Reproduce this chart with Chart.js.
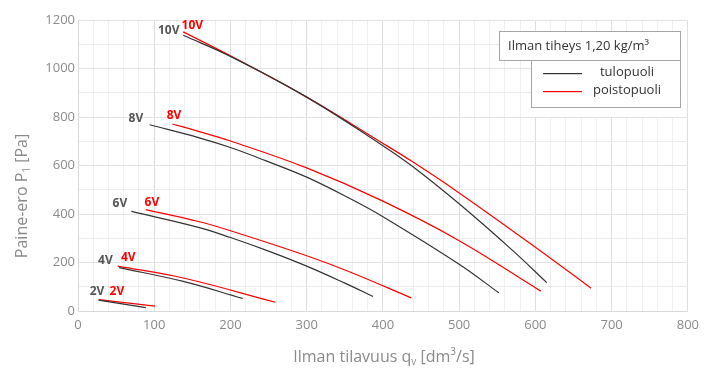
<!DOCTYPE html>
<html>
<head>
<meta charset="utf-8">
<script src="https://cdn.jsdelivr.net/npm/chart.js@4"></script>
<style>
  html, body { margin: 0; background: #fff; }
</style>
</head>
<body>
<canvas id="chart" width="705" height="374"></canvas>
<script>
// curves: [q (dm3/s), p (Pa)]
const tulo10V = [[138,1137],[200,1050],[300,882],[396,690],[439,596],[500,442],[570,250],[615,117]];
const poisto10V = [[138,1151],[200,1052],[300,882],[396,699],[439,615],[500,487],[600,263],[673,94]];
const tulo8V = [[94,768],[158,715],[200,674],[246,620],[300,552],[356,465],[400,389],[500,193],[552,75]];
const poisto8V = [[124,771],[158,741],[200,701],[300,590],[400,453],[500,290],[607,82]];
const tulo6V = [[70,411],[158,345],[200,303],[250,247],[300,185],[350,115],[387,60]];
const poisto6V = [[89,418],[158,369],[200,331],[300,228],[356,162],[437,54]];
const tulo4V = [[54,179],[138,122],[216,52]];
const poisto4V = [[52,185],[138,136],[259,36]];
const tulo2V = [[27,45],[89,14]];
const poisto2V = [[27,47],[101,20]];

const voltLabels = ['10V', '8V', '6V', '4V', '2V'];
const tuloLabelPos = [[119,1158],[76,793],[55,443],[36,209],[25,81]];
const poistoLabelPos = [[150,1179],[126,807],[97,448],[66,222],[51,80]];

const legendTitle = 'Ilman tiheys 1,20 kg/m³';
const legendNames = ['tulopuoli', 'poistopuoli'];

const tuloColor = '#333333';
const poistoColor = '#ff0000';
const grayText = '#8a8a8a';
const fontFam = '"Open Sans", "DejaVu Sans", sans-serif';

function line(points, color) {
  return {
    data: points.map(p => ({ x: p[0], y: p[1] })),
    borderColor: color,
    backgroundColor: color,
    borderWidth: 1.2,
    showLine: true,
    pointRadius: 0,
    tension: 0.4,
  };
}

// rich text with sub/superscripts, centered at cx,cy
function drawRich(ctx, parts, cx, cy, size) {
  const small = Math.round(size * 0.62);
  let total = 0;
  parts.forEach(p => {
    ctx.font = (p[1] ? small : size) + 'px ' + fontFam;
    total += ctx.measureText(p[0]).width;
  });
  let x = cx - total / 2;
  ctx.textAlign = 'left';
  ctx.textBaseline = 'middle';
  parts.forEach(p => {
    ctx.font = (p[1] ? small : size) + 'px ' + fontFam;
    let dy = 0;
    if (p[1] === 'sub') dy = size * 0.35;
    if (p[1] === 'sup') dy = -size * 0.3;
    ctx.fillText(p[0], x, cy + dy);
    x += ctx.measureText(p[0]).width;
  });
}

const extras = {
  id: 'extras',
  afterDatasetsDraw(chart) {
    const ctx = chart.ctx;
    const xs = chart.scales.x, ys = chart.scales.y;
    ctx.save();

    // curve labels
    ctx.font = 'bold 12px ' + fontFam;
    ctx.textAlign = 'center';
    ctx.textBaseline = 'middle';
    voltLabels.forEach((t, i) => {
      ctx.fillStyle = '#555555';
      ctx.fillText(t, xs.getPixelForValue(tuloLabelPos[i][0]), ys.getPixelForValue(tuloLabelPos[i][1]));
      ctx.fillStyle = poistoColor;
      ctx.fillText(t, xs.getPixelForValue(poistoLabelPos[i][0]), ys.getPixelForValue(poistoLabelPos[i][1]));
    });

    // legend boxes
    ctx.fillStyle = '#ffffff';
    ctx.fillRect(499, 31, 188, 30);
    ctx.fillRect(531, 60, 156, 57);
    ctx.strokeStyle = '#a6a6a6';
    ctx.lineWidth = 1;
    ctx.strokeRect(499.5, 31.5, 181, 29);
    ctx.strokeRect(531.5, 60.5, 149, 47);

    ctx.fillStyle = '#333333';
    ctx.font = '13px ' + fontFam;
    ctx.textAlign = 'left';
    ctx.fillText(legendTitle, 508, 46);

    const swatch = [tuloColor, poistoColor];
    for (let i = 0; i < 2; i++) {
      const y = 73 + i * 18;
      ctx.fillStyle = swatch[i];
      ctx.fillRect(543, y, 39, 1.2);
      ctx.fillStyle = '#333333';
      ctx.textAlign = 'center';
      ctx.fillText(legendNames[i], 627, y - 0.5);
    }

    // axis titles
    ctx.fillStyle = grayText;
    drawRich(ctx, [['Ilman tilavuus q'], ['v', 'sub'], [' [dm'], ['3', 'sup'], ['/s]']], 384, 357, 16);
    ctx.translate(22, 196);
    ctx.rotate(-Math.PI / 2);
    drawRich(ctx, [['Paine-ero P'], ['1', 'sub'], [' [Pa]']], 0, 0, 16);
    ctx.restore();
  }
};

new Chart(document.getElementById('chart').getContext('2d'), {
  type: 'scatter',
  data: {
    datasets: [
      line(tulo10V, tuloColor), line(poisto10V, poistoColor),
      line(tulo8V, tuloColor), line(poisto8V, poistoColor),
      line(tulo6V, tuloColor), line(poisto6V, poistoColor),
      line(tulo4V, tuloColor), line(poisto4V, poistoColor),
      line(tulo2V, tuloColor), line(poisto2V, poistoColor),
    ]
  },
  options: {
    responsive: false,
    animation: false,
    layout: { padding: { left: 0, right: 17, top: 20, bottom: 0 } },
    plugins: { legend: { display: false }, tooltip: { enabled: false } },
    scales: {
      x: {
        type: 'linear', min: 0, max: 800,
        afterFit: s => { s.height = 63; },
        ticks: {
          stepSize: 20, autoSkip: false, maxRotation: 0, padding: 6,
          color: grayText, font: { family: fontFam, size: 13 },
          callback: v => (v % 100 === 0 ? v : '')
        },
        grid: {
          color: c => (c.tick && c.tick.value % 100 === 0 ? '#dedede' : '#f0f0f0'),
          drawTicks: false
        },
        border: { color: '#d9d9d9' }
      },
      y: {
        type: 'linear', min: 0, max: 1200,
        afterFit: s => { s.width = 78; },
        ticks: {
          stepSize: 100, autoSkip: false, padding: 3,
          color: grayText, font: { family: fontFam, size: 13 },
          callback: v => (v % 200 === 0 ? v : '')
        },
        grid: {
          color: c => (c.tick && c.tick.value % 200 === 0 ? '#e2e2e2' : '#ececec'),
          drawTicks: false
        },
        border: { color: '#d9d9d9' }
      }
    }
  },
  plugins: [extras]
});
</script>
</body>
</html>
